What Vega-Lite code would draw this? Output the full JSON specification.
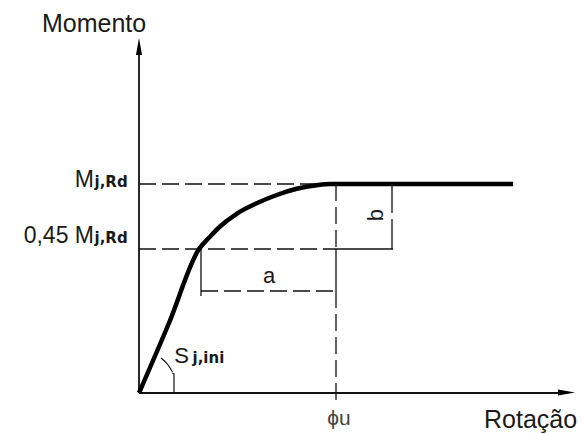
{
  "$schema": "https://vega.github.io/schema/vega-lite/v6.json",
  "width": 582,
  "height": 434,
  "autosize": {"type": "fit", "contains": "padding"},
  "padding": 0,
  "background": "white",
  "config": {"view": {"stroke": null}},
  "datasets": {
    "curve": [
      {"i": 0, "x": 0, "y": 0},
      {"i": 1, "x": 30, "y": 70},
      {"i": 2, "x": 60, "y": 144},
      {"i": 3, "x": 71, "y": 156.3},
      {"i": 4, "x": 81, "y": 166.5},
      {"i": 5, "x": 97.7, "y": 179.2},
      {"i": 6, "x": 117.7, "y": 189.7},
      {"i": 7, "x": 137.7, "y": 198},
      {"i": 8, "x": 157.7, "y": 204.2},
      {"i": 9, "x": 177.7, "y": 207.8},
      {"i": 10, "x": 191, "y": 209},
      {"i": 11, "x": 374, "y": 209}
    ],
    "arc": [
      {"s": "arc", "i": 0, "x": 22, "y": 35},
      {"s": "arc", "i": 1, "x": 26, "y": 31.5},
      {"s": "arc", "i": 2, "x": 29.5, "y": 27.5},
      {"s": "arc", "i": 3, "x": 32, "y": 23.5},
      {"s": "arc", "i": 4, "x": 33.5, "y": 21},
      {"s": "tick", "i": 0, "x": 33, "y": 20},
      {"s": "tick", "i": 1, "x": 35, "y": 19},
      {"s": "tick", "i": 2, "x": 35, "y": 0}
    ],
    "dashed": [
      {"x": 0, "y": 209, "x2": 186, "y2": 209},
      {"x": 0, "y": 144, "x2": 197, "y2": 144},
      {"x": 197, "y": 209, "x2": 197, "y2": 144},
      {"x": 197, "y": 102, "x2": 197, "y2": 0},
      {"x": 62, "y": 102, "x2": 197, "y2": 102}
    ],
    "solid": [
      {"x": 197, "y": 144, "x2": 254, "y2": 144},
      {"x": 197, "y": 144, "x2": 197, "y2": 102},
      {"x": 197, "y": 0, "x2": 197, "y2": -7},
      {"x": 253, "y": 209, "x2": 253, "y2": 180},
      {"x": 253, "y": 174, "x2": 253, "y2": 144},
      {"x": 62, "y": 144, "x2": 62, "y2": 97}
    ],
    "axes": [
      {"x": 0, "y": 0, "x2": 0, "y2": 340},
      {"x": 0, "y": 0, "x2": 420, "y2": 0}
    ],
    "arrows": [
      {"x": 0, "y": 346.5, "dir": "up"},
      {"x": 427.5, "y": 0.5, "dir": "right"}
    ],
    "bigLabels": [
      {"x": -97, "y": 361, "label": "Momento"},
      {"x": 345, "y": -35, "label": "Rotação"}
    ],
    "mLabels": [
      {"x": -45, "y": 206, "label": "M"},
      {"x": -45, "y": 149.7, "label": "0,45 M"}
    ],
    "subLabels": [
      {"x": -44.5, "y": 206, "label": "j,Rd"},
      {"x": -44.5, "y": 149.7, "label": "j,Rd"},
      {"x": 53.5, "y": 30, "label": "j,ini"}
    ],
    "midLabels": [
      {"x": 42.7, "y": 30, "label": "S", "align": "left"},
      {"x": 130, "y": 109.7, "label": "a", "align": "center"}
    ]
  },
  "layer": [
    {
      "data": {"name": "axes"},
      "mark": {"type": "rule", "color": "#111", "strokeWidth": 1.8},
      "encoding": {
        "x": {"field": "x", "type": "quantitative", "axis": null, "scale": {"domain": [-139, 443], "nice": false, "zero": false}},
        "y": {"field": "y", "type": "quantitative", "axis": null, "scale": {"domain": [-41, 393], "nice": false, "zero": false}},
        "x2": {"field": "x2"},
        "y2": {"field": "y2"}
      }
    },
    {
      "data": {"name": "dashed"},
      "mark": {"type": "rule", "color": "#111", "strokeWidth": 1.3, "strokeDash": [17, 6]},
      "encoding": {
        "x": {"field": "x", "type": "quantitative", "axis": null},
        "y": {"field": "y", "type": "quantitative", "axis": null},
        "x2": {"field": "x2"},
        "y2": {"field": "y2"}
      }
    },
    {
      "data": {"name": "solid"},
      "mark": {"type": "rule", "color": "#111", "strokeWidth": 1.3},
      "encoding": {
        "x": {"field": "x", "type": "quantitative", "axis": null},
        "y": {"field": "y", "type": "quantitative", "axis": null},
        "x2": {"field": "x2"},
        "y2": {"field": "y2"}
      }
    },
    {
      "data": {"name": "curve"},
      "mark": {"type": "line", "color": "#000", "strokeWidth": 4.5, "strokeJoin": "round", "interpolate": "monotone"},
      "encoding": {
        "x": {"field": "x", "type": "quantitative", "axis": null},
        "y": {"field": "y", "type": "quantitative", "axis": null},
        "order": {"field": "i"}
      }
    },
    {
      "data": {"name": "arc"},
      "mark": {"type": "line", "color": "#111", "strokeWidth": 1.2, "interpolate": "monotone"},
      "encoding": {
        "x": {"field": "x", "type": "quantitative", "axis": null},
        "y": {"field": "y", "type": "quantitative", "axis": null},
        "detail": {"field": "s"},
        "order": {"field": "i"}
      }
    },
    {
      "data": {"name": "arrows"},
      "transform": [{"filter": "datum.dir == 'up'"}],
      "mark": {"type": "point", "shape": "M0,-1L0.36,1L-0.36,1Z", "size": 289, "filled": true, "color": "#000", "opacity": 1},
      "encoding": {
        "x": {"field": "x", "type": "quantitative", "axis": null},
        "y": {"field": "y", "type": "quantitative", "axis": null}
      }
    },
    {
      "data": {"name": "arrows"},
      "transform": [{"filter": "datum.dir == 'right'"}],
      "mark": {"type": "point", "shape": "M1,0L-1,-0.36L-1,0.36Z", "size": 289, "filled": true, "color": "#000", "opacity": 1},
      "encoding": {
        "x": {"field": "x", "type": "quantitative", "axis": null},
        "y": {"field": "y", "type": "quantitative", "axis": null}
      }
    },
    {
      "data": {"name": "bigLabels"},
      "mark": {"type": "text", "font": "Liberation Sans", "fontSize": 25, "align": "left", "baseline": "alphabetic", "color": "#1a1a1a"},
      "encoding": {
        "x": {"field": "x", "type": "quantitative", "axis": null},
        "y": {"field": "y", "type": "quantitative", "axis": null},
        "text": {"field": "label"}
      }
    },
    {
      "data": {"name": "mLabels"},
      "mark": {"type": "text", "font": "Liberation Sans", "fontSize": 23, "align": "right", "baseline": "alphabetic", "color": "#1a1a1a"},
      "encoding": {
        "x": {"field": "x", "type": "quantitative", "axis": null},
        "y": {"field": "y", "type": "quantitative", "axis": null},
        "text": {"field": "label"}
      }
    },
    {
      "data": {"name": "subLabels"},
      "mark": {"type": "text", "font": "DejaVu Sans", "fontSize": 15, "fontWeight": 600, "align": "left", "baseline": "alphabetic", "color": "#1a1a1a"},
      "encoding": {
        "x": {"field": "x", "type": "quantitative", "axis": null},
        "y": {"field": "y", "type": "quantitative", "axis": null},
        "text": {"field": "label"}
      }
    },
    {
      "data": {"name": "midLabels"},
      "mark": {"type": "text", "font": "Liberation Sans", "fontSize": 22, "baseline": "alphabetic", "color": "#1a1a1a"},
      "encoding": {
        "x": {"field": "x", "type": "quantitative", "axis": null},
        "y": {"field": "y", "type": "quantitative", "axis": null},
        "text": {"field": "label"},
        "align": {"field": "align"}
      }
    },
    {
      "data": {"values": [{"x": 237, "y": 178, "label": "b"}]},
      "mark": {"type": "text", "font": "Liberation Sans", "fontSize": 22, "angle": 270, "align": "center", "baseline": "middle", "color": "#1a1a1a"},
      "encoding": {
        "x": {"field": "x", "type": "quantitative", "axis": null},
        "y": {"field": "y", "type": "quantitative", "axis": null},
        "text": {"field": "label"}
      }
    },
    {
      "data": {"values": [{"x": 200, "y": -32, "label": "ϕu"}]},
      "mark": {"type": "text", "font": "Liberation Sans", "fontSize": 21, "align": "center", "baseline": "alphabetic", "color": "#444"},
      "encoding": {
        "x": {"field": "x", "type": "quantitative", "axis": null},
        "y": {"field": "y", "type": "quantitative", "axis": null},
        "text": {"field": "label"}
      }
    }
  ]
}
